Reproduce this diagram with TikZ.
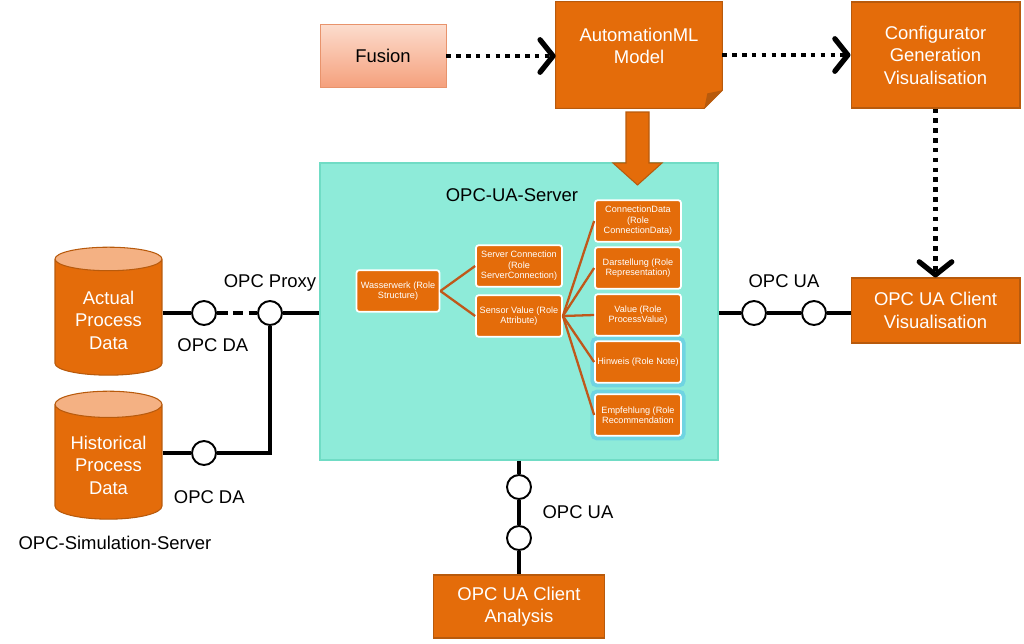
\documentclass[tikz,border=0pt]{standalone}
\usepackage{xcolor}
\usepackage{fontspec}
\setmainfont{Liberation Sans}
\usetikzlibrary{shapes.geometric, arrows.meta, positioning}

\definecolor{amlorange}{HTML}{E46C0A}
\definecolor{amledge}{HTML}{B85A0C}
\definecolor{amltop}{HTML}{F4B183}
\definecolor{serverfill}{HTML}{8EEBD9}
\definecolor{serveredge}{HTML}{70DCC5}
\definecolor{fusiontop}{HTML}{FCDCCD}
\definecolor{fusionbot}{HTML}{F5A07C}
\definecolor{fusionedge}{HTML}{E8936C}
\definecolor{treeline}{HTML}{C0581A}
\definecolor{glowblue}{HTML}{5BC6E8}

\begin{document}
\begin{tikzpicture}[
    x=0.02cm, y=-0.02cm,
    font=\fontsize{10.5}{12.8}\selectfont,
    block/.style={rectangle, draw=amledge, fill=amlorange, text=white, align=center, line width=0.6pt},
    role/.style={rectangle, draw=white, fill=amlorange, text=white, align=center, line width=1pt, rounded corners=1.5pt, minimum width=1.72cm, minimum height=0.83cm, inner sep=1pt, font=\fontsize{5.2}{6}\selectfont},
    roleglow/.style={rectangle, draw=glowblue, line width=3.5pt, rounded corners=2pt, minimum width=1.78cm, minimum height=0.89cm, opacity=0.6},
    store/.style={cylinder, shape border rotate=90, aspect=0.3, draw=amledge, line width=0.6pt, cylinder uses custom fill, cylinder body fill=amlorange, cylinder end fill=amltop, text=white, align=center, minimum width=2.14cm, minimum height=2.56cm},
    port/.style={circle, draw, fill=white, line width=1.1pt, minimum size=0.48cm, inner sep=0pt},
    link/.style={line width=2pt},
    dotarrow/.style={line width=2.6pt, dash pattern=on 2.6pt off 3pt, -{Straight Barb[length=2.6mm, width=6.5mm, line width=3pt, round]}},
    branch/.style={treeline, line width=1.3pt},
    lbl/.style={inner sep=1pt}
]
\useasboundingbox (0,0) rectangle (1024,643);

% Top row
\node[rectangle, draw=fusionedge, top color=fusiontop, bottom color=fusionbot, minimum width=2.52cm, minimum height=1.26cm] (fusion) at (383,56) {Fusion};
\node[minimum width=3.32cm, minimum height=2.12cm] (aml) at (639,55) {};
\filldraw[fill=amlorange, draw=amledge, line width=0.6pt] (aml.north west) -- (aml.north east) -- ([yshift=0.36cm]aml.south east) -- ([xshift=-0.36cm]aml.south east) -- (aml.south west) -- cycle;
\fill[amledge] ([yshift=0.36cm]aml.south east) -- ([xshift=-0.36cm]aml.south east) -- ([xshift=-0.3cm, yshift=0.3cm]aml.south east) -- cycle;
\node[text=white, align=center] (amltext) at (639,46) {AutomationML\\Model};
\node[block, minimum width=3.38cm, minimum height=2.12cm] (config) at (935.5,55) {Configurator\\Generation\\Visualisation};

% Server block
\node[rectangle, draw=serveredge, fill=serverfill, line width=1pt, minimum width=7.96cm, minimum height=5.94cm] (server) at (519,311.5) {};
\node[lbl] (servertitle) at (512,195) {OPC-UA-Server};

% Model feeds the server
\filldraw[fill=amlorange, draw=amledge, line width=0.6pt] (626,112) -- (649,112) -- (649,163) -- (662,163) -- (637.5,185) -- (613,163) -- (626,163) -- cycle;

% Roles
\node[roleglow] (hinweisglow) at (638,362) {};
\node[roleglow] (empfglow) at (638,415) {};
\node[role, minimum width=1.66cm] (wasser) at (398,291) {Wasserwerk (Role\\Structure)};
\node[role] (servconn) at (519,266) {Server Connection\\(Role\\ServerConnection)};
\node[role] (sensor) at (519,316) {Sensor Value (Role\\Attribute)};
\node[role] (conndata) at (638,221) {ConnectionData\\(Role\\ConnectionData)};
\node[role] (darst) at (638,268) {Darstellung (Role\\Representation)};
\node[role] (value) at (638,315) {Value (Role\\ProcessValue)};
\node[role] (hinweis) at (638,362) {Hinweis (Role Note)};
\node[role] (empf) at (638,415) {Empfehlung (Role\\Recommendation};

\draw[branch] (wasser.east) -- (servconn.west);
\draw[branch] (wasser.east) -- (sensor.west);
\foreach \r in {conndata, darst, value, hinweis, empf}
    \draw[branch] (sensor.east) -- (\r.west);

% Data sources
\node[store] (actual) at (108.5,320) {Actual\\Process\\Data};
\node[store] (historical) at (108.5,465) {Historical\\Process\\Data};
\node[lbl] (simserver) at (115,543) {OPC-Simulation-Server};

\node[port] (da1) at (204,313) {};
\node[port] (proxy) at (270,313) {};
\node[port] (da2) at (204,453) {};
\node[lbl, above=4pt of proxy] (proxylbl) {OPC Proxy};
\node[lbl, below=6pt of da1, xshift=5pt] (da1lbl) {OPC DA};
\node[lbl, below=13pt of da2, xshift=3pt] (da2lbl) {OPC DA};

\draw[link] (actual.east |- da1) -- (da1);
\draw[link, dash pattern=on 6pt off 3pt] (da1) -- (proxy);
\draw[link] (proxy) -- (proxy -| server.west);
\draw[link] (proxy.south) |- (da2.east);
\draw[link] (historical.east |- da2) -- (da2);

% Clients
\node[block, minimum width=3.38cm, minimum height=1.3cm] (clientvis) at (935.5,310.5) {OPC UA Client\\Visualisation};
\node[block, minimum width=3.42cm, minimum height=1.26cm] (clientana) at (519,606.5) {OPC UA Client\\Analysis};

\node[port] (ua1) at (754,313) {};
\node[port] (ua2) at (814,313) {};
\node[lbl] (ua12lbl) at (784,281) {OPC UA};
\node[port] (ua3) at (519,487) {};
\node[port] (ua4) at (519,538) {};
\node[lbl] (ua34lbl) at (578,512) {OPC UA};

\draw[link] (server.east |- ua1) -- (ua1);
\draw[link] (ua1) -- (ua2);
\draw[link] (ua2) -- (clientvis.west |- ua2);
\draw[link] (server.south) -- (ua3);
\draw[link] (ua3) -- (ua4);
\draw[link] (ua4) -- (clientana);

% Dotted flow
\draw[dotarrow] (fusion.east) -- (fusion.east -| aml.west);
\draw[dotarrow] (aml.east) -- (config.west);
\draw[dotarrow] (config.south) -- (clientvis.north);

\end{tikzpicture}
\end{document}
